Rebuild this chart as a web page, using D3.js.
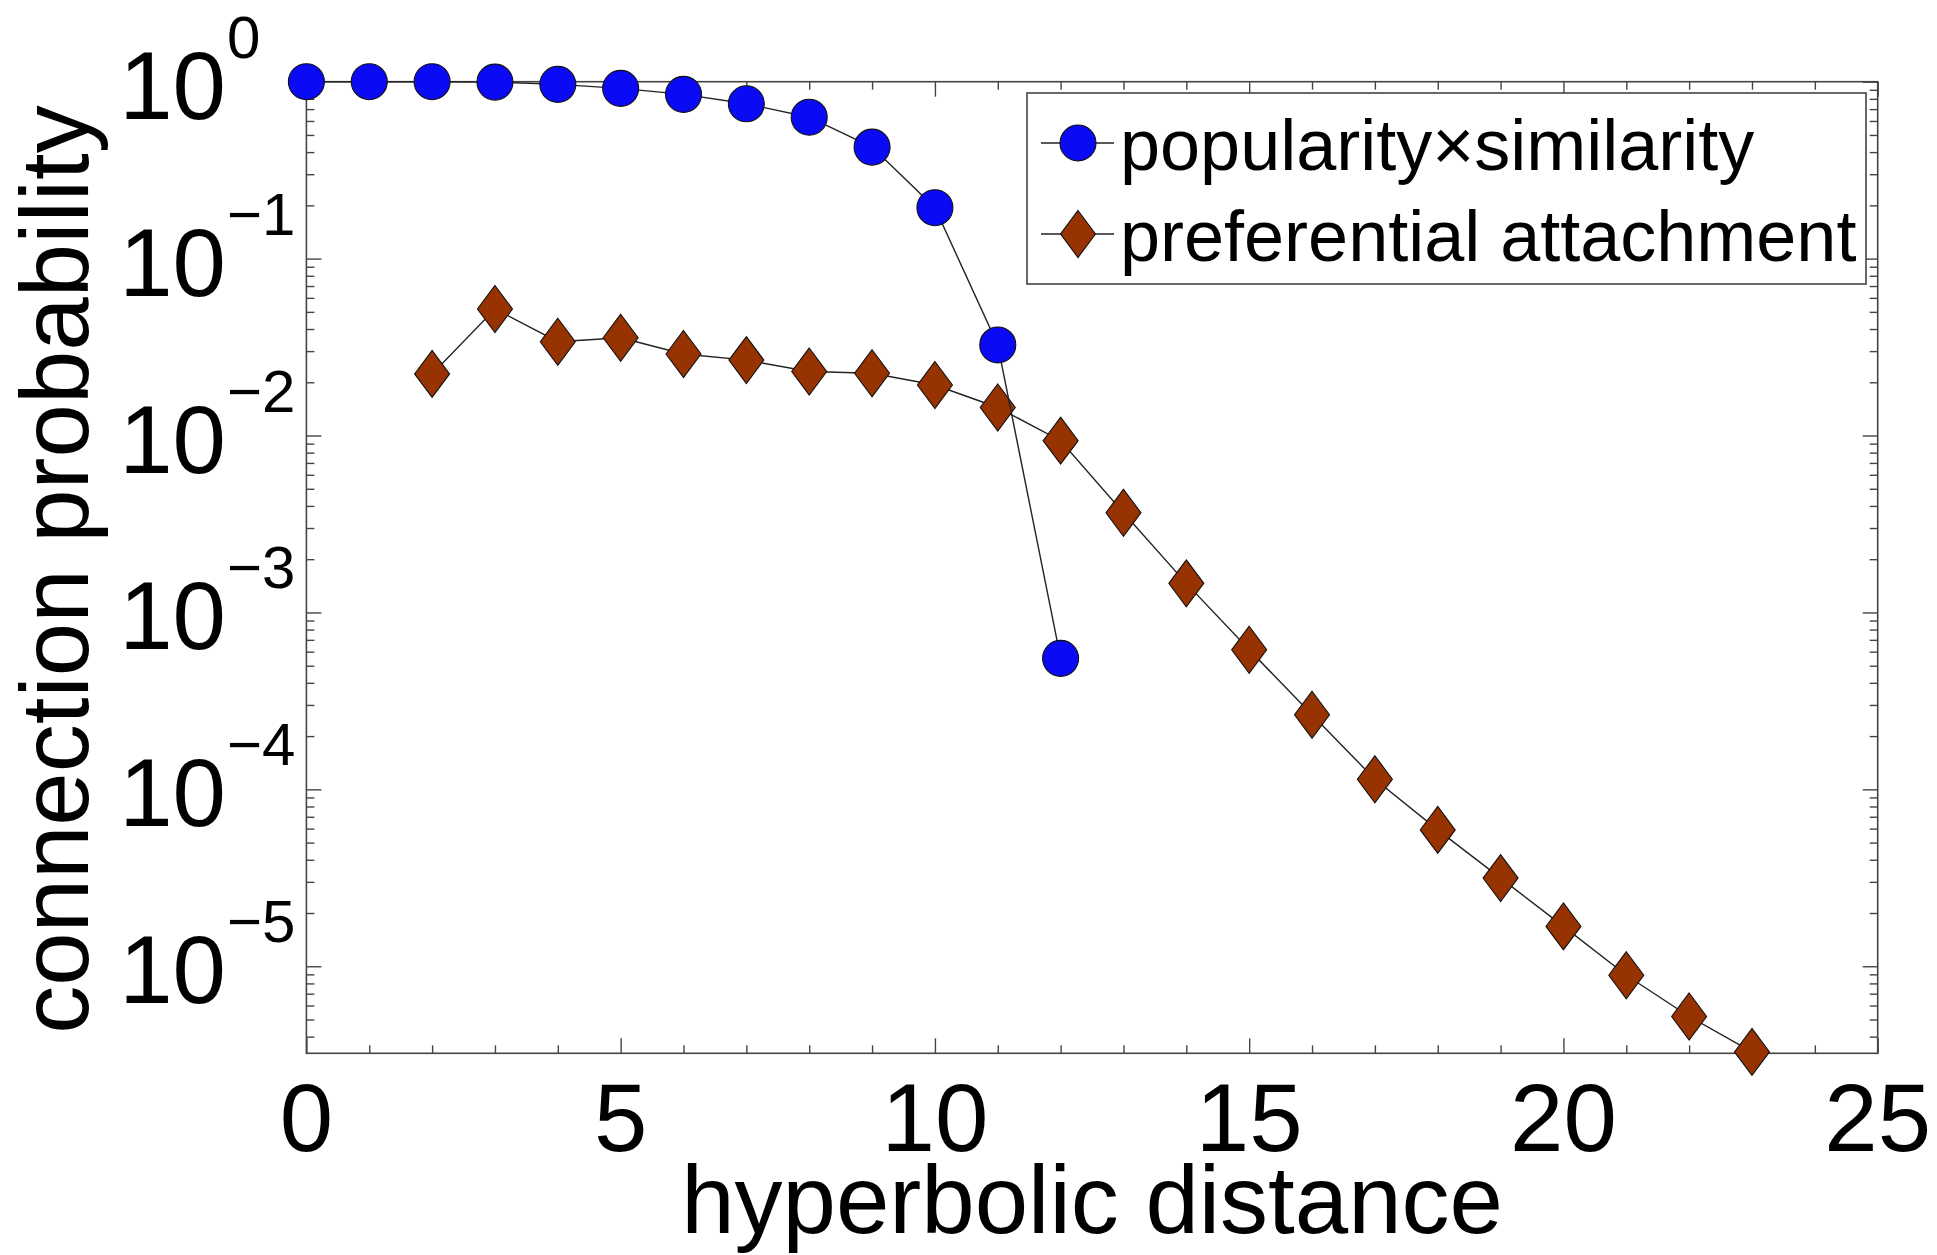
<!DOCTYPE html>
<html>
<head>
<meta charset="utf-8">
<script src="https://cdn.jsdelivr.net/npm/d3@7"></script>
<style>
  html, body { margin: 0; padding: 0; background: #fff; }
  svg { display: block; }
  text { font-family: "Liberation Sans", Arial, Helvetica, sans-serif; fill: #000; }
</style>
</head>
<body>
<svg id="chart" width="1937" height="1255"></svg>
<script>
// ---- data ----
const psX = [0, 1, 2, 3, 4, 5, 6, 7, 8, 9, 10, 11, 12];
const psY = [1.0, 1.0, 1.0, 0.995, 0.966, 0.917, 0.848, 0.75, 0.63, 0.427, 0.194, 0.0325, 0.00055];

const paX = [2, 3, 4, 5, 6, 7, 8, 9, 10, 11, 12, 13, 14, 15, 16, 17, 18, 19, 20, 21, 22, 23];
const paY = [0.0223, 0.0519, 0.0339, 0.0357, 0.0289, 0.0267, 0.0230, 0.0225, 0.0193, 0.0144,
             0.00935, 0.00366, 0.00146, 6.15e-4, 2.64e-4, 1.14e-4, 5.9e-5, 3.15e-5, 1.68e-5,
             8.9e-6, 5.2e-6, 3.28e-6];

const seriesNames = ["popularity\u00d7similarity", "preferential attachment"];
const xTickValues = [0, 5, 10, 15, 20, 25];
const xTickLabels = ["0", "5", "10", "15", "20", "25"];
const yTickExponents = [0, -1, -2, -3, -4, -5];
const xDomain = [0, 25];
const yDomain = [Math.pow(10, -5.492), 1];
const xLabel = "hyperbolic distance";
const yLabel = "connection probability";

// ---- layout ----
const L = 306.4, R = 1877.7, T = 81.7, B = 1053.3;
const blue = "#0a0af5", brown = "#963300", axisColor = "#444";

const svg = d3.select("#chart");
const x = d3.scaleLinear().domain(xDomain).range([L, R]);
const y = d3.scaleLog().domain(yDomain).range([B, T]);

// minor ticks
const xMinor = d3.range(xDomain[0], xDomain[1] + 1, 1).filter(v => v % 5 !== 0);
const yMajor = yTickExponents.map(e => Math.pow(10, e));
const yMinor = [];
for (let e = 0; e >= -6; e--) {
  for (let k = 2; k <= 9; k++) {
    const v = k * Math.pow(10, e - 1);
    if (v >= yDomain[0] && v <= yDomain[1]) yMinor.push(v);
  }
}

function styleAxis(g) {
  g.select(".domain").remove();
  g.selectAll(".tick line").attr("stroke", axisColor).attr("stroke-width", 1.4);
  g.selectAll(".tick text").remove();
}

// axes ticks (inward), using d3 axes
svg.append("g").attr("transform", `translate(0,${B})`)
  .call(d3.axisBottom(x).tickValues(xTickValues).tickSize(-15).tickFormat(""))
  .call(styleAxis);
svg.append("g").attr("transform", `translate(0,${B})`)
  .call(d3.axisBottom(x).tickValues(xMinor).tickSize(-8).tickFormat(""))
  .call(styleAxis);
svg.append("g").attr("transform", `translate(0,${T})`)
  .call(d3.axisTop(x).tickValues(xTickValues).tickSize(-15).tickFormat(""))
  .call(styleAxis);
svg.append("g").attr("transform", `translate(0,${T})`)
  .call(d3.axisTop(x).tickValues(xMinor).tickSize(-8).tickFormat(""))
  .call(styleAxis);
svg.append("g").attr("transform", `translate(${L},0)`)
  .call(d3.axisLeft(y).tickValues(yMajor).tickSize(-15).tickFormat(""))
  .call(styleAxis);
svg.append("g").attr("transform", `translate(${L},0)`)
  .call(d3.axisLeft(y).tickValues(yMinor).tickSize(-8).tickFormat(""))
  .call(styleAxis);
svg.append("g").attr("transform", `translate(${R},0)`)
  .call(d3.axisRight(y).tickValues(yMajor).tickSize(-15).tickFormat(""))
  .call(styleAxis);
svg.append("g").attr("transform", `translate(${R},0)`)
  .call(d3.axisRight(y).tickValues(yMinor).tickSize(-8).tickFormat(""))
  .call(styleAxis);

// box
svg.append("rect").attr("x", L).attr("y", T).attr("width", R - L).attr("height", B - T)
  .attr("fill", "none").attr("stroke", axisColor).attr("stroke-width", 1.6);

// x tick labels
svg.append("g").selectAll("text").data(xTickValues).join("text")
  .attr("x", d => x(d)).attr("y", 1151)
  .attr("text-anchor", "middle").attr("font-size", 96)
  .text((d, i) => xTickLabels[i]);

// y tick labels 10^e
const yl = svg.append("g");
yTickExponents.forEach(e => {
  const yy = y(Math.pow(10, e));
  yl.append("text").attr("x", 226).attr("y", yy + 37)
    .attr("text-anchor", "end").attr("font-size", 96).text("10");
  yl.append("text").attr("x", 227).attr("y", yy - 24)
    .attr("text-anchor", "start").attr("font-size", 60)
    .text(e === 0 ? "0" : "\u2212" + Math.abs(e));
});

// axis labels
svg.append("text").attr("x", (L + R) / 2).attr("y", 1233)
  .attr("text-anchor", "middle").attr("font-size", 96).text(xLabel);
svg.append("text").attr("transform", `translate(88,${(T + B) / 2 + 2}) rotate(-90)`)
  .attr("text-anchor", "middle").attr("font-size", 96).text(yLabel);

// markers
const DW = 17.5, DH = 23.5, CR = 18;
function diamondPath(cx, cy) {
  const p = d3.path();
  p.moveTo(cx, cy - DH); p.lineTo(cx + DW, cy); p.lineTo(cx, cy + DH); p.lineTo(cx - DW, cy); p.closePath();
  return p.toString();
}
const line = d3.line().x(d => x(d[0])).y(d => y(d[1]));

const paData = paX.map((v, i) => [v, paY[i]]);
const psData = psX.map((v, i) => [v, psY[i]]);

// preferential attachment series
svg.append("path").datum(paData).attr("d", line)
  .attr("fill", "none").attr("stroke", "#222").attr("stroke-width", 1.4);
svg.append("g").selectAll("path").data(paData).join("path")
  .attr("d", d => diamondPath(x(d[0]), y(d[1])))
  .attr("fill", brown).attr("stroke", "#111").attr("stroke-width", 1.1);

// popularity x similarity series
svg.append("path").datum(psData).attr("d", line)
  .attr("fill", "none").attr("stroke", "#222").attr("stroke-width", 1.4);
svg.append("g").selectAll("circle").data(psData).join("circle")
  .attr("cx", d => x(d[0])).attr("cy", d => y(d[1])).attr("r", CR)
  .attr("fill", blue).attr("stroke", "#111").attr("stroke-width", 1.1);

// legend
const lg = svg.append("g");
lg.append("rect").attr("x", 1027).attr("y", 93).attr("width", 839).attr("height", 191)
  .attr("fill", "#fff").attr("stroke", axisColor).attr("stroke-width", 1.6);
const rows = [143, 234];
rows.forEach((ry, i) => {
  lg.append("line").attr("x1", 1041).attr("x2", 1114).attr("y1", ry).attr("y2", ry)
    .attr("stroke", "#222").attr("stroke-width", 1.4);
  if (i === 0) {
    lg.append("circle").attr("cx", 1078).attr("cy", ry).attr("r", CR)
      .attr("fill", blue).attr("stroke", "#111").attr("stroke-width", 1.1);
  } else {
    lg.append("path").attr("d", diamondPath(1078, ry))
      .attr("fill", brown).attr("stroke", "#111").attr("stroke-width", 1.1);
  }
  lg.append("text").attr("x", 1120).attr("y", ry + 27).attr("font-size", 72).text(seriesNames[i]);
});
</script>
</body>
</html>
